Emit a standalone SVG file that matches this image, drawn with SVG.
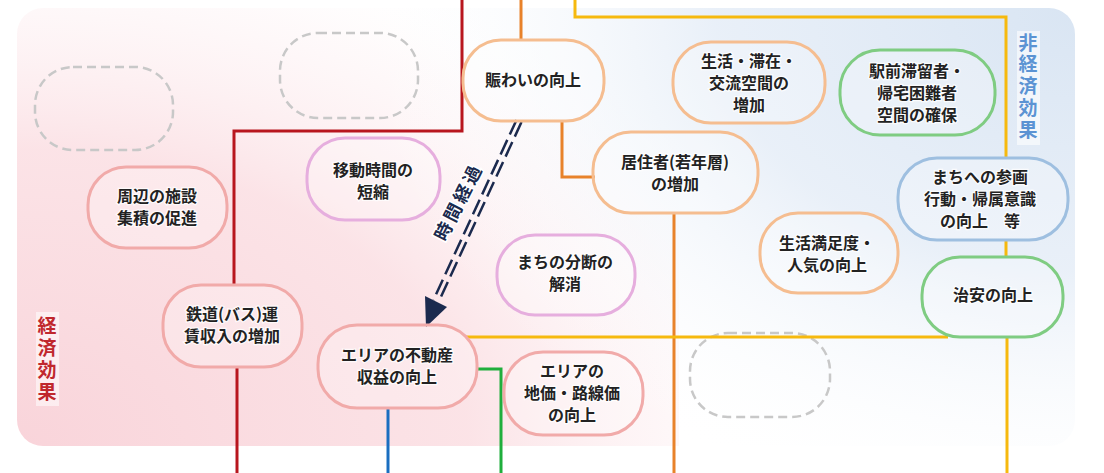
<svg xmlns="http://www.w3.org/2000/svg" width="1104" height="473" viewBox="0 0 1104 473">
<defs>
<radialGradient id="gPink" gradientUnits="userSpaceOnUse" cx="0" cy="0" r="1" gradientTransform="translate(17 446) scale(820 540)">
<stop offset="0" stop-color="#f9d4da"/>
<stop offset="0.55" stop-color="#fbe0e4" stop-opacity="0.9"/>
<stop offset="0.85" stop-color="#fdf0f2" stop-opacity="0.35"/>
<stop offset="1" stop-color="#ffffff" stop-opacity="0"/>
</radialGradient>
<radialGradient id="gBlue" gradientUnits="userSpaceOnUse" cx="0" cy="0" r="1" gradientTransform="translate(1075 8) scale(720 520)">
<stop offset="0" stop-color="#d9e5f3"/>
<stop offset="0.5" stop-color="#e5edf7" stop-opacity="0.85"/>
<stop offset="1" stop-color="#ffffff" stop-opacity="0"/>
</radialGradient>
<clipPath id="bgClip"><rect x="17" y="8" width="1058" height="438" rx="26"/></clipPath>
<style>
.node rect.p{stroke-width:3;fill:#ffffff;fill-opacity:0.25}
.or{stroke:#f5bd90}
.pk{stroke:#f1aaa9}
.pu{stroke:#e6aede}
.gr{stroke:#7fcc82}
.bl{stroke:#9ebfe0}
.dash{fill:none;stroke:#c8c8c8;stroke-width:2.5;stroke-dasharray:9 5}
.lbl{font-family:"Noto Sans CJK JP","Noto Sans",sans-serif;font-weight:bold;font-size:16px;fill:#222;text-anchor:middle;stroke:#ffffff;stroke-width:2.5;stroke-opacity:0.8;paint-order:stroke}
.conn path{fill:none;stroke-width:3}
.vt{font-family:"Noto Sans CJK JP","Noto Sans",sans-serif;font-weight:bold;font-size:19px;writing-mode:vertical-rl;text-orientation:upright}
</style>
</defs>
<g id="background" clip-path="url(#bgClip)">
<rect x="17" y="8" width="1058" height="438" fill="#ffffff"/>
<rect x="17" y="8" width="662" height="438" fill="url(#gPink)"/>
<rect x="17" y="8" width="1058" height="438" fill="url(#gBlue)"/>
</g>
<g id="placeholders">
<rect class="dash" x="35" y="67" width="138" height="83" rx="38"/>
<rect class="dash" x="280" y="33" width="138" height="85" rx="38"/>
<rect class="dash" x="690" y="333" width="140" height="84" rx="38"/>
</g>
<g id="connectors" class="conn">
<path d="M462,0 V131 H234 V285" stroke="#b8161e"/>
<path d="M237,367 V473" stroke="#b8161e"/>
<path d="M521,0 V40" stroke="#e8822a"/>
<path d="M562,121 V177 H595" stroke="#e8822a"/>
<path d="M674,213 V473" stroke="#e8822a"/>
<path d="M575,0 V17 H1006 V158" stroke="#f6b90e"/>
<path d="M1006,240 V257" stroke="#f6b90e"/>
<path d="M1007,337 V473" stroke="#f6b90e"/>
<path d="M466,337 H948" stroke="#f6b90e"/>
<path d="M476,369 H501 V473" stroke="#1fae3c"/>
<path d="M388,408 V473" stroke="#1a6ec0"/>
</g>
<g id="time-arrow">
<path d="M516.5,119.9 L433.5,299.9 M521.5,122.1 L438.5,302.1" fill="none" stroke="#1b2a4e" stroke-width="2.5" stroke-dasharray="16 6"/>
<polygon points="425,296 447,307 426,327" fill="#1b2a4e"/>
<text x="459" y="208" transform="rotate(-63 459 202)" style="font-family:'Noto Sans CJK JP','Noto Sans',sans-serif;font-weight:bold;font-size:18px;fill:#1b2a4e;text-anchor:middle;letter-spacing:3px;stroke:#ffffff;stroke-width:3;paint-order:stroke">時間経過</text>
</g>
<g id="label-economic">
<rect x="36" y="312" width="23" height="94" fill="#ffffff" fill-opacity="0.55"/>
<text class="vt" x="47" y="316" fill="#c0272d" letter-spacing="3">経済効果</text>
</g>
<g id="label-noneconomic">
<rect x="1017" y="31" width="23" height="114" fill="#ffffff" fill-opacity="0.6"/>
<text class="vt" x="1028" y="33" fill="#5b93d3" letter-spacing="2.7">非経済効果</text>
</g>
<g id="n-nigiwai" class="node">
<rect class="p or" x="463" y="40" width="141" height="81" rx="38"/>
<text class="lbl" x="533" y="86">賑わいの向上</text>
</g>
<g id="n-seikatsu-kukan" class="node">
<rect class="p or" x="673" y="42" width="152" height="81" rx="38"/>
<text class="lbl"><tspan x="749" y="66.5">生活・滞在・</tspan><tspan x="749" y="88.5">交流空間の</tspan><tspan x="749" y="110.5">増加</tspan></text>
</g>
<g id="n-ekimae" class="node">
<rect class="p gr" x="840" y="50" width="155" height="85" rx="40"/>
<text class="lbl"><tspan x="917" y="76.5">駅前滞留者・</tspan><tspan x="917" y="98.5">帰宅困難者</tspan><tspan x="917" y="120.5">空間の確保</tspan></text>
</g>
<g id="n-sankaku" class="node">
<rect class="p bl" x="898" y="158" width="170" height="82" rx="39"/>
<text class="lbl"><tspan x="980" y="183">まちへの参画</tspan><tspan x="980" y="205">行動・帰属意識</tspan><tspan x="980" y="227">の向上　等</tspan></text>
</g>
<g id="n-chian" class="node">
<rect class="p gr" x="922" y="257" width="141" height="80" rx="38"/>
<text class="lbl" x="993" y="301">治安の向上</text>
</g>
<g id="n-manzoku" class="node">
<rect class="p or" x="760" y="213" width="138" height="80" rx="38"/>
<text class="lbl"><tspan x="827" y="249">生活満足度・</tspan><tspan x="827" y="271">人気の向上</tspan></text>
</g>
<g id="n-kyojusha" class="node">
<rect class="p or" x="593" y="132" width="165" height="81" rx="38"/>
<text class="lbl"><tspan x="675" y="168">居住者(若年層)</tspan><tspan x="675" y="190">の増加</tspan></text>
</g>
<g id="n-bundan" class="node">
<rect class="p pu" x="497" y="235" width="138" height="80" rx="38"/>
<text class="lbl"><tspan x="565" y="268">まちの分断の</tspan><tspan x="565" y="290">解消</tspan></text>
</g>
<g id="n-idou" class="node">
<rect class="p pu" x="307" y="138" width="133" height="82" rx="38"/>
<text class="lbl"><tspan x="373" y="176">移動時間の</tspan><tspan x="373" y="198">短縮</tspan></text>
</g>
<g id="n-shuhen" class="node">
<rect class="p pk" x="88" y="167" width="139" height="81" rx="38"/>
<text class="lbl"><tspan x="157" y="202">周辺の施設</tspan><tspan x="157" y="224">集積の促進</tspan></text>
</g>
<g id="n-tetsudo" class="node">
<rect class="p pk" x="163" y="285" width="139" height="82" rx="38"/>
<text class="lbl"><tspan x="232" y="320">鉄道(バス)運</tspan><tspan x="232" y="342">賃収入の増加</tspan></text>
</g>
<g id="n-fudosan" class="node">
<rect class="p pk" x="318" y="325" width="159" height="83" rx="39"/>
<text class="lbl"><tspan x="397" y="361">エリアの不動産</tspan><tspan x="397" y="383">収益の向上</tspan></text>
</g>
<g id="n-chika" class="node">
<rect class="p pk" x="504" y="352" width="139" height="83" rx="39"/>
<text class="lbl"><tspan x="572" y="376.5">エリアの</tspan><tspan x="572" y="398.5">地価・路線価</tspan><tspan x="572" y="420.5">の向上</tspan></text>
</g>
</svg>
